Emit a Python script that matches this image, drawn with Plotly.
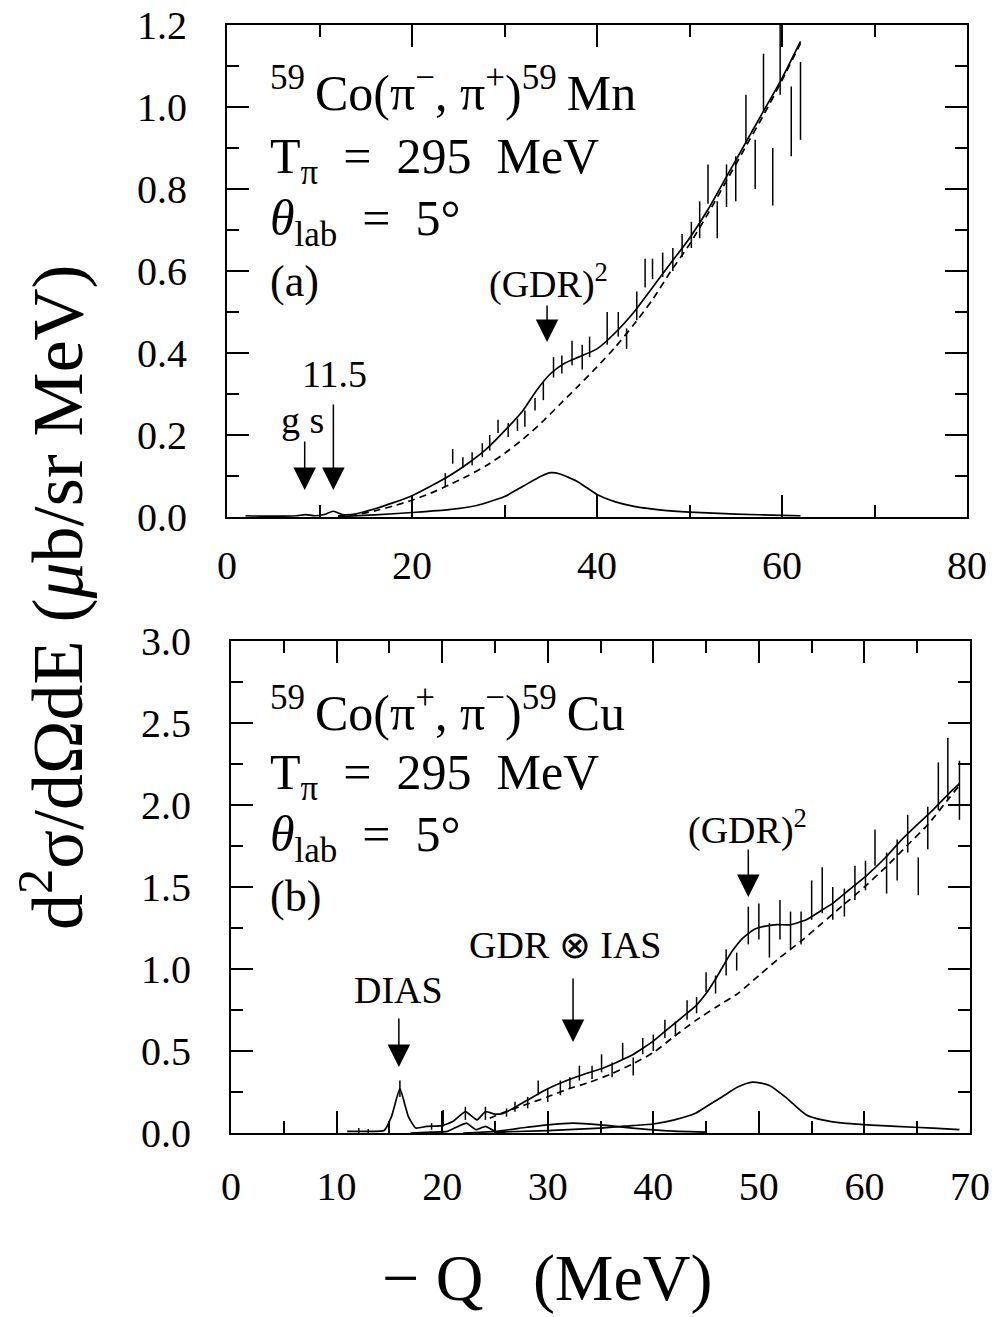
import plotly.graph_objects as go

# ---------------- Panel (a): 59Co(pi-,pi+)59Mn ----------------
xa_tot = [2, 4, 6, 7.5, 8.5, 9.5, 10.5, 11.5, 12.5, 14, 16, 18, 20, 22, 24, 26, 28, 30, 32, 33.5,
          35, 36.5, 38, 40, 42, 44, 46, 48, 50, 52, 54, 56, 58, 60, 62]
ya_tot = [0.003, 0.002, 0.002, 0.003, 0.006, 0.003, 0.006, 0.014, 0.006, 0.008, 0.02, 0.035, 0.052,
          0.075, 0.1, 0.13, 0.165, 0.21, 0.26, 0.31, 0.35, 0.375, 0.39, 0.41, 0.45, 0.5, 0.56, 0.62,
          0.68, 0.75, 0.83, 0.91, 0.99, 1.07, 1.16]

xa_bg = [12, 14, 16, 18, 20, 22, 24, 26, 28, 30, 32, 34, 36, 38, 40, 42, 44, 46, 48, 50, 52, 54, 56,
         58, 60, 62]
ya_bg = [0.002, 0.006, 0.015, 0.027, 0.041, 0.058, 0.078, 0.1, 0.125, 0.155, 0.19, 0.23, 0.275,
         0.32, 0.366, 0.415, 0.47, 0.53, 0.6, 0.665, 0.74, 0.82, 0.9, 0.98, 1.065, 1.155]

xa_gdr = [12, 16, 20, 24, 27, 30, 32, 34, 35, 36, 38, 40, 42, 44, 47, 50, 55, 60, 62]
ya_gdr = [0.001, 0.005, 0.011, 0.018, 0.028, 0.05, 0.075, 0.1, 0.108, 0.105, 0.085, 0.055, 0.037,
          0.026, 0.017, 0.012, 0.007, 0.004, 0.003]

xa_dat = [23.6, 24.4, 25.5, 26.5, 27.6, 28.4, 29.3, 30.4, 31.4, 32.2, 33.3, 34.2, 35.3, 36.2, 37.3,
          38.4, 39.2, 41.1, 42.3, 43.2, 44.3, 45.2, 46.0, 47.1, 48.2, 49.2, 50.2, 51.1, 52.0, 53.0,
          54.0, 55.0, 56.1, 57.1, 58.0, 59.0, 59.8, 61.0, 62.0]
ya_dat = [0.09, 0.148, 0.133, 0.142, 0.163, 0.181, 0.221, 0.212, 0.225, 0.24, 0.275, 0.307, 0.365,
          0.372, 0.40, 0.39, 0.415, 0.46, 0.47, 0.435, 0.515, 0.595, 0.605, 0.615, 0.628, 0.662,
          0.688, 0.725, 0.812, 0.725, 0.808, 0.825, 0.97, 0.86, 1.06, 0.83, 1.14, 0.965, 1.015]
ea_dat = [0.017, 0.018, 0.013, 0.016, 0.017, 0.019, 0.016, 0.017, 0.015, 0.02, 0.015, 0.022, 0.025,
          0.022, 0.03, 0.03, 0.025, 0.04, 0.03, 0.025, 0.035, 0.035, 0.025, 0.03, 0.028, 0.028,
          0.032, 0.045, 0.048, 0.045, 0.052, 0.055, 0.06, 0.06, 0.07, 0.07, 0.11, 0.085, 0.095]

# ---------------- Panel (b): 59Co(pi+,pi-)59Cu ----------------
xb_tot = [11, 13, 14.5, 15.2, 16, 16.8, 17.5, 18.5, 20, 21, 22.2, 23.3, 24.1, 25, 25.8, 27, 28.6,
          30, 31.8, 33.5, 35, 36.5, 38, 40, 41.3, 43, 44.1, 45, 46, 47, 47.6, 48.5, 49.5, 50.5,
          51.7, 53, 54.5, 56, 57, 58.5, 60.2, 62, 63.4, 65, 66.5, 68, 69]
yb_tot = [0.01, 0.01, 0.015, 0.1, 0.27, 0.1, 0.03, 0.04, 0.045, 0.07, 0.13, 0.08, 0.13, 0.115, 0.12,
          0.16, 0.22, 0.27, 0.32, 0.36, 0.39, 0.43, 0.475, 0.56, 0.63, 0.72, 0.78, 0.85, 0.95, 1.06,
          1.12, 1.19, 1.24, 1.26, 1.27, 1.27, 1.3, 1.36, 1.40, 1.48, 1.57, 1.68, 1.78, 1.88, 1.97,
          2.07, 2.13]

xb_bg = [24.5, 26, 28, 30, 32, 34, 36, 38, 40, 42, 44, 46, 48, 50, 52, 54, 56, 58, 60, 62, 64, 66,
         68, 69]
yb_bg = [0.09, 0.13, 0.175, 0.22, 0.27, 0.31, 0.36, 0.42, 0.49, 0.59, 0.685, 0.77, 0.85, 0.96, 1.07,
         1.17, 1.28, 1.39, 1.5, 1.62, 1.75, 1.88, 2.04, 2.12]

xb_gdr = [25, 30, 35, 38, 40, 42, 44, 45, 46.5, 48, 49.4, 51, 52.5, 54.5, 56, 58, 60.2, 63, 66.5, 69]
yb_gdr = [0.005, 0.015, 0.03, 0.045, 0.055, 0.08, 0.12, 0.16, 0.22, 0.28, 0.31, 0.29, 0.22, 0.11,
          0.08, 0.06, 0.05, 0.04, 0.03, 0.02]

xb_ias = [22, 25, 28, 30, 32.4, 35, 38, 41, 45]
yb_ias = [0.0, 0.01, 0.035, 0.05, 0.06, 0.05, 0.03, 0.015, 0.005]

xb_low = [17, 19, 20.5, 21.5, 22.3, 23.2, 24.1, 25, 26]
yb_low = [0.0, 0.005, 0.01, 0.04, 0.06, 0.02, 0.04, 0.01, 0.0]

xb_dat = [12.1, 13.0, 16.0, 19.0, 20.1, 22.2, 24.1, 26.1, 26.9, 28.1, 29.1, 30.0, 31.2, 32.1, 33.0,
          34.2, 35.1, 36.1, 37.1, 38.1, 39.0, 40.0, 41.1, 42.1, 43.2, 44.1, 45.0, 45.9, 46.9, 47.9,
          49.0, 50.0, 51.0, 52.0, 53.0, 54.0, 55.0, 56.0, 57.0, 58.1, 59.1, 60.1, 61.0, 62.1, 63.1,
          64.1, 65.1, 66.0, 67.0, 67.9, 69.0]
yb_dat = [0.015, 0.012, 0.27, 0.04, 0.09, 0.12, 0.12, 0.125, 0.16, 0.185, 0.275, 0.23, 0.275, 0.305,
          0.365, 0.37, 0.425, 0.385, 0.50, 0.405, 0.53, 0.55, 0.635, 0.635, 0.75, 0.78, 0.92, 0.905,
          1.04, 1.045, 1.265, 1.29, 1.175, 1.30, 1.235, 1.25, 1.42, 1.48, 1.40, 1.405, 1.525, 1.57,
          1.74, 1.585, 1.665, 1.825, 1.565, 1.86, 2.115, 2.22, 2.09]
eb_dat = [0.015, 0.012, 0.05, 0.02, 0.05, 0.04, 0.04, 0.025, 0.03, 0.035, 0.045, 0.04, 0.045, 0.035,
          0.045, 0.04, 0.055, 0.045, 0.05, 0.055, 0.05, 0.05, 0.055, 0.045, 0.06, 0.05, 0.06, 0.055,
          0.08, 0.055, 0.115, 0.11, 0.105, 0.12, 0.115, 0.10, 0.12, 0.14, 0.10, 0.085, 0.105, 0.09,
          0.11, 0.125, 0.125, 0.115, 0.115, 0.13, 0.145, 0.19, 0.18]

SERIF = "Liberation Serif"
LW = 1.7
NB = "\u00a0"

fig = go.Figure()


def curve(x, y, xa, ya, dash="solid", smooth=0.6):
    fig.add_trace(go.Scatter(x=x, y=y, xaxis=xa, yaxis=ya, mode="lines",
                             line=dict(color="black", width=LW, dash=dash, shape="spline",
                                       smoothing=smooth),
                             showlegend=False, hoverinfo="skip"))


def bars(x, y, e, xa, ya):
    fig.add_trace(go.Scatter(x=x, y=y, xaxis=xa, yaxis=ya, mode="markers",
                             marker=dict(size=1, color="rgba(0,0,0,0)"),
                             error_y=dict(type="data", array=e, visible=True, width=0,
                                          thickness=1.5, color="black"),
                             showlegend=False, hoverinfo="skip"))


curve(xa_tot, ya_tot, "x", "y")
curve(xa_bg, ya_bg, "x", "y", dash="7px,5px")
curve(xa_gdr, ya_gdr, "x", "y")
bars(xa_dat, ya_dat, ea_dat, "x", "y")

curve(xb_tot, yb_tot, "x2", "y2", smooth=0.4)
curve(xb_bg, yb_bg, "x2", "y2", dash="7px,5px")
curve(xb_gdr, yb_gdr, "x2", "y2")
curve(xb_ias, yb_ias, "x2", "y2")
curve(xb_low, yb_low, "x2", "y2", smooth=0.4)
bars(xb_dat, yb_dat, eb_dat, "x2", "y2")

W, H = 998, 1317
OX, OY = 8, 8  # page body margin offset


def fx(px):
    return (px - OX) / W


def fy(py):
    return 1 - (py - OY) / H


def axis(rng, dtick, mdtick, domain, fmt, anchor, standoff):
    return dict(range=rng, domain=domain, anchor=anchor, automargin=False, showline=True,
                linewidth=2, linecolor="black", mirror="ticks", ticks="inside", ticklen=22,
                tickwidth=1.5, tickcolor="black", tick0=0, dtick=dtick,
                minor=dict(dtick=mdtick, tick0=0, ticklen=12, tickwidth=1.5, tickcolor="black",
                           ticks="inside", showgrid=False),
                showgrid=False, zeroline=False, tickformat=fmt,
                ticklabelstandoff=standoff, ticklabeloverflow="allow",
                tickfont=dict(family=SERIF, size=40, color="black"))


fig.update_layout(
    template="none",
    width=W, height=H, margin=dict(l=0, r=0, t=0, b=0, autoexpand=False),
    paper_bgcolor="white", plot_bgcolor="white", showlegend=False,
    xaxis=axis([0, 80], 20, 10, [fx(227), fx(967)], "d", "y", 12),
    yaxis=axis([0, 1.2], 0.2, 0.1, [fy(517), fy(25)], ".1f", "x", 30),
    xaxis2=axis([0, 70], 10, 5, [fx(231), fx(970)], "d", "y2", 17),
    yaxis2=axis([0, 3.0], 0.5, 0.25, [fy(1133), fy(641)], ".1f", "x2", 30),
)

ann = []


def ptxt(text, px, py, size=50):
    ann.append(dict(text=text, xref="paper", yref="paper", x=fx(px), y=fy(py),
                    xanchor="left", yanchor="middle", showarrow=False,
                    font=dict(family=SERIF, size=size, color="black")))


ptxt("<sup>59</sup>\u2009Co(π<sup>−</sup>," + NB + "π<sup>+</sup>)<sup>59</sup>\u2009Mn", 268, 90)
ptxt("T<sub>π</sub>" + NB * 2 + "=" + NB * 2 + "295" + NB * 2 + "MeV", 268, 160)
ptxt("<i>θ</i><sub>lab</sub>" + NB * 2 + "=" + NB * 2 + "5°", 268, 222)
ptxt("(a)", 268, 281, 44)
ptxt("<sup>59</sup>\u2009Co(π<sup>+</sup>," + NB + "π<sup>−</sup>)<sup>59</sup>\u2009Cu", 268, 709)
ptxt("T<sub>π</sub>" + NB * 2 + "=" + NB * 2 + "295" + NB * 2 + "MeV", 268, 776)
ptxt("<i>θ</i><sub>lab</sub>" + NB * 2 + "=" + NB * 2 + "5°", 268, 838)
ptxt("(b)", 268, 896, 44)


def arrow(x, y, ay, xr, yr):
    ann.append(dict(text="", x=x, y=y, xref=xr, yref=yr, ax=0, ay=ay, showarrow=True,
                    arrowhead=2, arrowsize=3.0, arrowwidth=1.5, arrowcolor="black", standoff=0))


def label(text, x, y, xr, yr, size=38):
    ann.append(dict(text=text, x=x, y=y, xref=xr, yref=yr, showarrow=False,
                    xanchor="center", yanchor="middle",
                    font=dict(family=SERIF, size=size, color="black")))


arrow(8.4, 0.066, -50, "x", "y")
arrow(11.5, 0.066, -87, "x", "y")
arrow(34.6, 0.427, -38, "x", "y")
label("g" + NB + "s", 8.2, 0.237, "x", "y")
label("11.5", 11.6, 0.349, "x", "y")
label("(GDR)<sup>2</sup>", 34.8, 0.575, "x", "y")

arrow(15.9, 0.402, -50, "x2", "y2")
arrow(32.4, 0.555, -65, "x2", "y2")
arrow(49.0, 1.439, -49, "x2", "y2")
label("DIAS", 15.9, 0.872, "x2", "y2")
label("GDR" + NB + "⊗" + NB + "IAS", 31.6, 1.146, "x2", "y2")
label("(GDR)<sup>2</sup>", 48.9, 1.86, "x2", "y2")

# axis titles
ann.append(dict(text="d<sup>2</sup>σ/dΩdE" + NB + "(<i>μ</i>b/sr" + NB + "MeV)",
                xref="paper", yref="paper",
                x=fx(52), y=fy(597), textangle=-90, showarrow=False,
                xanchor="center", yanchor="middle",
                font=dict(family=SERIF, size=72, color="black")))
ann.append(dict(text="−" + NB + "Q" + NB * 3 + "(MeV)", xref="paper", yref="paper",
                x=fx(547), y=fy(1278),
                showarrow=False, xanchor="center", yanchor="middle",
                font=dict(family=SERIF, size=66, color="black")))

fig.update_layout(annotations=ann)
fig.write_html("out.html")
